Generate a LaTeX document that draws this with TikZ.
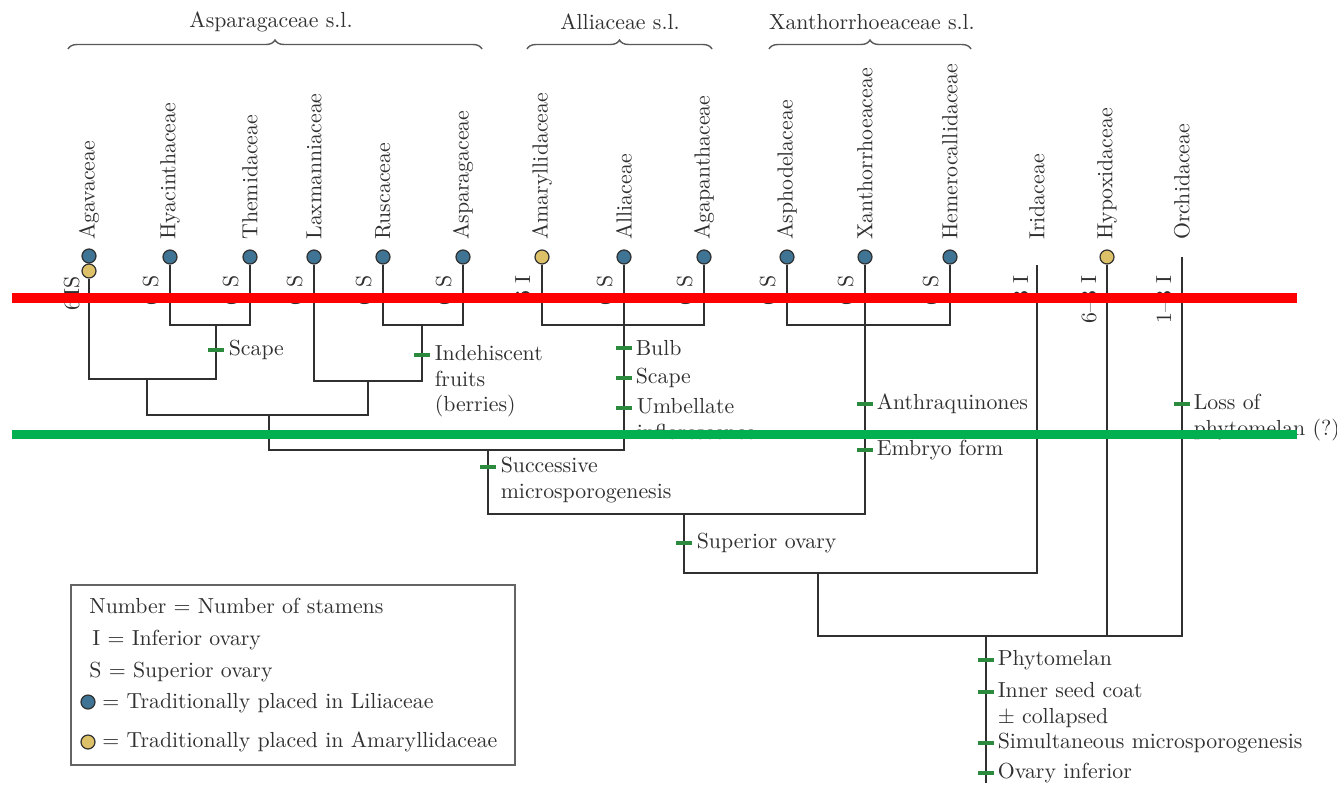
\documentclass[tikz,border=0pt]{standalone}
\usetikzlibrary{positioning,decorations.pathreplacing}

\definecolor{liliblue}{HTML}{3F7494}
\definecolor{amaryellow}{HTML}{DDC169}
\definecolor{synapogreen}{HTML}{2B8A3E}
\definecolor{inkgray}{HTML}{303030}
\definecolor{overlayred}{HTML}{FF0000}
\definecolor{overlaygreen}{HTML}{00B050}

\tikzset{
  branch/.style={draw=inkgray,line width=1.4pt},
  lili/.style={circle,draw=inkgray,line width=0.6pt,fill=liliblue,minimum size=7pt,inner sep=0pt},
  amar/.style={lili,fill=amaryellow},
  taxon/.style={rotate=90,anchor=west,inner sep=1.5pt},
  ovary/.style={rotate=90,anchor=south east,inner sep=0pt},
  synapo/.style={rectangle,fill=synapogreen,minimum width=8pt,minimum height=2.2pt,inner sep=0pt},
  trait/.style={anchor=west,inner sep=1pt},
  traits/.style={anchor=north west,inner sep=1pt,align=left,yshift=6pt},
  clade/.style={draw=inkgray!80,line width=0.7pt,decorate,decoration={brace,amplitude=4.5pt}},
  legtext/.style={anchor=base west,inner sep=0pt},
}

\begin{document}
\begin{tikzpicture}[x=0.5pt,y=-0.5pt,font=\fontsize{10.9}{12.8}\selectfont,text=inkgray]
  \useasboundingbox (0,0) rectangle (1337,787);

  % clades on top
  \draw[clade] (68,49) -- (482,49);
  \draw[clade] (527,49) -- (712,49);
  \draw[clade] (769,49) -- (971,49);
  \node (cAspa) at (271,22) {Asparagaceae s.l.};
  \node (cAlli) at (620,22) {Alliaceae s.l.};
  \node (cXant) at (872,22) {Xanthorrhoeaceae s.l.};

  % tips
  \node[lili] (agav) at (89,256) {};
  \node[amar] (agavy) at (89,271) {};
  \node[lili] (hyac) at (170,257) {};
  \node[lili] (them) at (250,257) {};
  \node[lili] (laxm) at (314,257) {};
  \node[lili] (rusc) at (383,257) {};
  \node[lili] (aspa) at (463,257) {};
  \node[amar] (amry) at (542,257) {};
  \node[lili] (alli) at (624,257) {};
  \node[lili] (agap) at (704,257) {};
  \node[lili] (asph) at (787,257) {};
  \node[lili] (xant) at (865,257) {};
  \node[lili] (heme) at (950,257) {};
  \coordinate (irid) at (1037,265);
  \node[amar] (hypo) at (1107,257) {};
  \coordinate (orch) at (1182,257);

  % taxon names
  \node[taxon] (nAgav) at (89,243) {Agavaceae};
  \node[taxon] (nHyac) at (170,243) {Hyacinthaceae};
  \node[taxon] (nThem) at (250,243) {Themidaceae};
  \node[taxon] (nLaxm) at (314,243) {Laxmanniaceae};
  \node[taxon] (nRusc) at (383,243) {Ruscaceae};
  \node[taxon] (nAspa) at (463,243) {Asparagaceae};
  \node[taxon] (nAmry) at (542,243) {Amaryllidaceae};
  \node[taxon] (nAlli) at (624,243) {Alliaceae};
  \node[taxon] (nAgap) at (704,243) {Agapanthaceae};
  \node[taxon] (nAsph) at (787,243) {Asphodelaceae};
  \node[taxon] (nXant) at (865,243) {Xanthorrhoeaceae};
  \node[taxon] (nHeme) at (950,243) {Hemerocallidaceae};
  \node[taxon] (nIrid) at (1037,243) {Iridaceae};
  \node[taxon] (nHypo) at (1107,243) {Hypoxidaceae};
  \node[taxon] (nOrch) at (1182,243) {Orchidaceae};

  % stamens and ovary
  \node[ovary] (oAgav) at (80,276) {6\,IS};
  \node[ovary] (oHyac) at (159,275) {6 S};
  \node[ovary] (oThem) at (239,275) {6 S};
  \node[ovary] (oLaxm) at (303,275) {6 S};
  \node[ovary] (oRusc) at (372,275) {6 S};
  \node[ovary] (oAspa) at (452,275) {6 S};
  \node[ovary] (oAmry) at (531,275) {6 I};
  \node[ovary] (oAlli) at (613,275) {6 S};
  \node[ovary] (oAgap) at (693,275) {6 S};
  \node[ovary] (oAsph) at (776,275) {6 S};
  \node[ovary] (oXant) at (854,275) {6 S};
  \node[ovary] (oHeme) at (939,275) {6 S};
  \node[ovary] (oIrid) at (1029,275) {3 I};
  \node[ovary] (oHypo) at (1097,275) {6--3 I};
  \node[ovary] (oOrch) at (1172,275) {1--3 I};

  % junctions
  \coordinate (hyTh) at (216,325);
  \coordinate (agHT) at (147,379);
  \coordinate (ruAs) at (422,325);
  \coordinate (laRA) at (368,381);
  \coordinate (aspC) at (269,415);
  \coordinate (allC) at (624,325);
  \coordinate (aspAll) at (488,450);
  \coordinate (xanC) at (865,325);
  \coordinate (core) at (684,514);
  \coordinate (iriC) at (818,573);
  \coordinate (root) at (986,636);
  \coordinate (base) at (986,783);

  % tree
  \draw[branch] (hyac) |- (hyTh) -| (them);
  \draw[branch] (agavy) |- (agHT) -| (hyTh);
  \draw[branch] (rusc) |- (ruAs) -| (aspa);
  \draw[branch] (laxm) |- (laRA) -| (ruAs);
  \draw[branch] (agHT) |- (aspC) -| (laRA);
  \draw[branch] (amry) |- (allC) -| (agap);
  \draw[branch] (alli) -- (allC);
  \draw[branch] (aspC) |- (aspAll) -| (allC);
  \draw[branch] (asph) |- (xanC) -| (heme);
  \draw[branch] (xant) -- (xanC);
  \draw[branch] (aspAll) |- (core) -| (xanC);
  \draw[branch] (core) |- (iriC) -| (irid);
  \draw[branch] (iriC) |- (root) -| (orch);
  \draw[branch] (hypo) -- (hypo |- root);
  \draw[branch] (root) -- (base);

  % synapomorphies
  \node[synapo] (t1) at (216,350) {};
  \node[synapo] (t2) at (422,355) {};
  \node[synapo] (t3) at (624,348) {};
  \node[synapo] (t4) at (624,378) {};
  \node[synapo] (t5) at (624,408) {};
  \node[synapo] (t6) at (488,467) {};
  \node[synapo] (t7) at (865,404) {};
  \node[synapo] (t8) at (865,450) {};
  \node[synapo] (t9) at (684,543) {};
  \node[synapo] (t10) at (1182,404) {};
  \node[synapo] (t11) at (986,660) {};
  \node[synapo] (t12) at (986,692) {};
  \node[synapo] (t13) at (986,743) {};
  \node[synapo] (t14) at (986,773) {};

  \node[trait, right=1pt of t1] (l1) {Scape};
  \node[right=1pt of t2, traits] (l2) {Indehiscent\\fruits\\(berries)};
  \node[trait, right=0.5pt of t3] (l3) {Bulb};
  \node[trait, right=0.5pt of t4] (l4) {Scape};
  \node[right=1pt of t5, traits] (l5) {Umbellate\\inflorescence};
  \node[right=1pt of t6, traits] (l6) {Successive\\microsporogenesis};
  \node[trait, right=0.5pt of t7] (l7) {Anthraquinones};
  \node[trait, right=0.5pt of t8] (l8) {Embryo form};
  \node[trait, right=1pt of t9] (l9) {Superior ovary};
  \node[right=0.5pt of t10, traits] (l10) {Loss of\\phytomelan (?)};
  \node[trait, right=0.5pt of t11] (l11) {Phytomelan};
  \node[right=0.5pt of t12, traits] (l12) {Inner seed coat\\$\pm$ collapsed};
  \node[trait, right=0.5pt of t13] (l13) {Simultaneous microsporogenesis};
  \node[trait, right=0.5pt of t14] (l14) {Ovary inferior};

  % legend
  \draw[draw=inkgray!75,line width=0.8pt] (71,585) rectangle (515,765);
  \node[legtext] (legNum) at (89,613) {Number = Number of stamens};
  \node[legtext] (legInf) at (92,645) {I = Inferior ovary};
  \node[legtext] (legSup) at (89,677) {S = Superior ovary};
  \node[lili] (legBlue) at (88,702) {};
  \node[legtext] (legLili) at (102,708) {= Traditionally placed in Liliaceae};
  \node[amar] (legYell) at (88,742) {};
  \node[legtext] (legAmar) at (102,747) {= Traditionally placed in Amaryllidaceae};

  % marker lines
  \draw[overlayred,line width=5pt] (12,298) -- (1297,298);
  \draw[overlaygreen,line width=4.5pt] (12,434) -- (1297,434);
\end{tikzpicture}
\end{document}
